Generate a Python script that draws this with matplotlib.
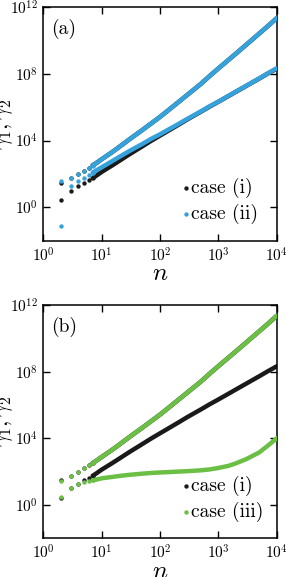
import matplotlib
matplotlib.use("Agg")
import matplotlib.pyplot as plt
import numpy as np

plt.rcParams['mathtext.fontset'] = 'cm'
plt.rcParams['font.family'] = ['cmr10', 'DejaVu Serif']
plt.rcParams['axes.formatter.use_mathtext'] = True

# --- data (log10 of gamma) ---
n_dots = [2, 3, 4, 5, 6, 7]
n_line = [7, 8, 10, 15, 20, 30, 50, 70, 100, 200, 300, 500, 700, 1000,
          1500, 2000, 3000, 5000, 7000, 10000]

# upper branch shared by all cases at large n
upper_line = [2.52, 2.64, 2.88, 3.30, 3.62, 4.08, 4.64, 5.02, 5.42, 6.27,
              6.77, 7.40, 7.86, 8.33, 8.85, 9.22, 9.75, 10.42, 10.86, 11.35]

# case (i): black
case1_up_dots = [1.48, 1.76, 2.00, 2.20, 2.38, 2.52]
case1_lo_dots = [0.44, 1.00, 1.28, 1.48, 1.62, 1.75]
case1_lo_line = [1.75, 1.88, 2.12, 2.50, 2.78, 3.18, 3.66, 3.98, 4.30, 4.92,
                 5.29, 5.73, 6.03, 6.33, 6.68, 6.93, 7.28, 7.72, 8.02, 8.32]

# case (ii): blue
case2_up_dots = [1.58, 1.78, 2.02, 2.20, 2.34, 2.50]
case2_lo_dots = [-1.12, 1.28, 1.58, 1.78, 1.94, 2.08]
case2_lo_line = [2.08, 2.20, 2.40, 2.76, 3.02, 3.38, 3.80, 4.10, 4.38, 4.97,
                 5.32, 5.75, 6.05, 6.34, 6.69, 6.94, 7.29, 7.73, 8.03, 8.34]

# case (iii): green
case3_up_dots = [1.46, 1.76, 2.00, 2.20, 2.40, 2.54]
case3_lo_dots = [0.46, 1.02, 1.26, 1.38, 1.42, 1.47]
case3_lo_line = [1.47, 1.52, 1.60, 1.68, 1.74, 1.81, 1.88, 1.92, 1.95, 2.00,
                 2.03, 2.08, 2.13, 2.22, 2.35, 2.50, 2.75, 3.15, 3.55, 4.00]

black = '#1a1a1a'
blue = '#36a2dc'
green = '#6cbf45'

W, H = 286, 577
fig = plt.figure(figsize=(W / 100, H / 100), dpi=100)

ax_left = 43.3 / W
ax_w = 233.4 / W
ax_h = 233.3 / H
ax_a = fig.add_axes([ax_left, (H - 240.6) / H, ax_w, ax_h])
ax_b = fig.add_axes([ax_left, (H - 538.3) / H, ax_w, ax_h])

ms = 10   # scatter size
lw = 3.2  # dense-dot line width


def pw(v):
    return 10 ** np.array(v)


def draw_case(ax, up_dots, lo_dots, lo_line, color, z, label):
    ax.scatter(n_dots, pw(up_dots), s=ms, color=color, lw=0, zorder=z)
    ax.scatter(n_dots, pw(lo_dots), s=ms, color=color, lw=0, zorder=z,
               label=label)
    ax.plot(n_line, pw(upper_line), color=color, lw=lw,
            solid_capstyle='round', zorder=z)
    ax.plot(n_line, pw(lo_line), color=color, lw=lw,
            solid_capstyle='round', zorder=z)


draw_case(ax_a, case1_up_dots, case1_lo_dots, case1_lo_line, black, 2,
          'case (i)')
draw_case(ax_a, case2_up_dots, case2_lo_dots, case2_lo_line, blue, 3,
          'case (ii)')
draw_case(ax_b, case1_up_dots, case1_lo_dots, case1_lo_line, black, 2,
          'case (i)')
draw_case(ax_b, case3_up_dots, case3_lo_dots, case3_lo_line, green, 3,
          'case (iii)')

for ax, tag in [(ax_a, '(a)'), (ax_b, '(b)')]:
    ax.set_xscale('log')
    ax.set_yscale('log')
    ax.set_xlim(1, 1e4)
    ax.set_ylim(1e-2, 1e12)
    ax.set_xticks([1, 1e1, 1e2, 1e3, 1e4])
    ax.set_xticklabels([r'$10^{0}$', r'$10^{1}$', r'$10^{2}$', r'$10^{3}$',
                        r'$10^{4}$'])
    ax.set_yticks([1, 1e4, 1e8, 1e12])
    ax.set_yticklabels([r'$10^{0}$', r'$10^{4}$', r'$10^{8}$', r'$10^{12}$'])
    ax.minorticks_off()
    ax.tick_params(direction='in', length=5, width=1, top=True, right=True,
                   labelsize=11, pad=4)
    for s in ax.spines.values():
        s.set_linewidth(1.1)
    ax.set_xlabel(r'$n$', fontsize=18, labelpad=-1)
    ax.set_ylabel(r'$\gamma_1, \gamma_2$', fontsize=16, labelpad=-4)
    ax.text(0.035, 0.95, tag, transform=ax.transAxes, fontsize=14,
            va='top', ha='left')
    ax.legend(loc='lower left', frameon=False, fontsize=14,
              handletextpad=0.0, handlelength=0.5, labelspacing=0.3,
              borderpad=0.3, borderaxespad=0,
              bbox_to_anchor=(0.565, 0.045))

fig.savefig('out.png', dpi=100)
